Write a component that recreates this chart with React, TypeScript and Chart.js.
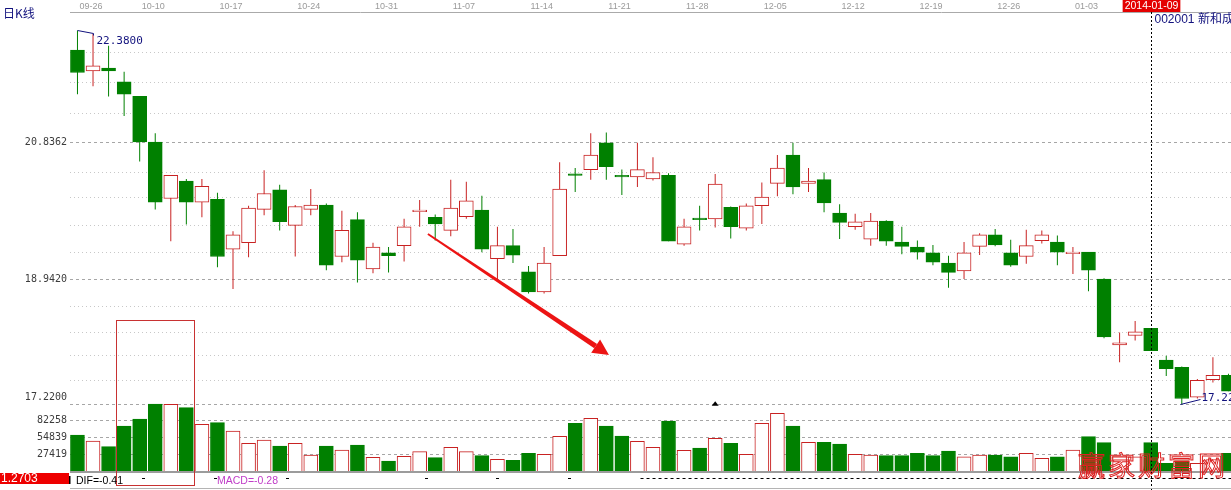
import { useEffect, useRef } from 'react';
import { Chart, registerables } from 'chart.js';

Chart.register(...registerables);

// ---------- data ----------
const opens = [
  22.11, 21.82, 21.86, 21.67, 21.47, 20.84, 20.06, 20.30, 20.01, 20.05,
  19.36, 19.45, 19.91, 20.18, 19.69, 19.91, 19.97, 19.26, 19.77, 19.09,
  19.31, 19.41, 19.88, 19.80, 19.62, 19.81, 19.90, 19.23, 19.41, 19.05,
  18.77, 19.27, 20.40, 20.46, 20.83, 20.38, 20.36, 20.33, 20.38, 19.43,
  19.79, 19.78, 19.94, 19.65, 19.96, 20.27, 20.66, 20.27, 20.32, 19.86,
  19.67, 19.50, 19.75, 19.46, 19.39, 19.31, 19.17, 19.06, 19.40, 19.56,
  19.31, 19.26, 19.48, 19.46, 19.30, 19.32, 18.95, 18.04, 18.17, 18.27,
  17.83, 17.73, 17.32, 17.56, 17.62,
];
const highs = [
  22.38, 22.33, 22.17, 21.81, 21.47, 20.96, 20.38, 20.33, 20.33, 20.14,
  19.61, 19.96, 20.45, 20.25, 19.97, 20.19, 19.99, 19.89, 19.87, 19.45,
  19.39, 19.78, 20.04, 19.84, 20.32, 20.29, 20.10, 19.67, 19.64, 19.13,
  19.39, 20.56, 20.48, 20.96, 20.97, 20.46, 20.83, 20.63, 20.41, 19.78,
  19.96, 20.40, 19.95, 19.99, 20.28, 20.66, 20.83, 20.48, 20.42, 19.98,
  19.85, 19.86, 19.76, 19.67, 19.48, 19.42, 19.27, 19.46, 19.58, 19.64,
  19.49, 19.63, 19.62, 19.55, 19.39, 19.32, 18.96, 18.21, 18.37, 18.27,
  17.89, 17.74, 17.57, 17.87, 17.64,
];
const lows = [
  21.50, 21.61, 21.47, 21.20, 20.57, 19.91, 19.47, 19.70, 19.80, 19.11,
  18.81, 19.25, 19.83, 19.62, 19.26, 19.83, 19.07, 19.18, 18.90, 19.03,
  19.04, 19.19, 19.67, 19.48, 19.54, 19.78, 19.32, 18.94, 19.17, 18.75,
  18.75, 19.27, 20.15, 20.32, 20.32, 20.11, 20.22, 20.31, 19.47, 19.41,
  19.62, 19.66, 19.51, 19.62, 19.71, 20.09, 20.12, 20.15, 19.87, 19.50,
  19.63, 19.41, 19.41, 19.29, 19.22, 19.14, 18.83, 18.95, 19.28, 19.40,
  19.12, 19.16, 19.44, 19.14, 19.02, 18.78, 18.13, 17.80, 18.10, 17.96,
  17.61, 17.22, 17.30, 17.52, 17.40,
];
const closes = [
  21.80, 21.89, 21.82, 21.50, 20.84, 20.01, 20.38, 20.01, 20.23, 19.26,
  19.56, 19.93, 20.13, 19.74, 19.95, 19.97, 19.14, 19.62, 19.21, 19.39,
  19.27, 19.67, 19.90, 19.71, 19.93, 20.03, 19.36, 19.41, 19.28, 18.77,
  19.17, 20.19, 20.38, 20.66, 20.50, 20.36, 20.46, 20.42, 19.47, 19.67,
  19.77, 20.26, 19.67, 19.96, 20.08, 20.48, 20.22, 20.30, 20.00, 19.73,
  19.74, 19.75, 19.47, 19.40, 19.32, 19.18, 19.04, 19.31, 19.56, 19.42,
  19.14, 19.41, 19.56, 19.32, 19.32, 19.07, 18.15, 18.07, 18.22, 17.96,
  17.71, 17.30, 17.55, 17.62, 17.40,
];
const volumes = [
  59300, 49700, 40600, 73800, 85000, 109000, 108500, 103100, 76500, 79100,
  65700, 46000, 51300, 41700, 46000, 27300, 41700, 35300, 43300, 23500,
  17600, 25000, 32600, 23000, 39600, 32600, 26200, 20300, 18700, 29900,
  28300, 57200, 78000, 86100, 73800, 57700, 49200, 39600, 81800, 34800,
  38500, 54000, 46000, 28300, 78000, 94100, 73800, 47600, 47600, 44900,
  28300, 27300, 26200, 26200, 29900, 26200, 33700, 24500, 27300, 27300,
  24500, 29900, 22000, 24500, 35300, 56600, 47000, 26000, 24500, 47000,
  14000, 18000, 14000, 20000, 30000,
];

const dateTickIndex = [0, 4, 9, 14, 19, 24, 29, 34, 39, 44, 49, 54, 59, 64];
const dateTickLabels = ['09-26', '10-10', '10-17', '10-24', '10-31', '11-07', '11-14', '11-21', '11-28', '12-05', '12-12', '12-19', '12-26', '01-03'];
const priceTicks = [20.8362, 18.942, 17.22];
const priceDotLevels = [22.087, 21.673, 21.236, 20.43, 20.088, 19.688, 19.326, 18.577, 18.222, 17.9, 17.555];
const volumeTicks = [27419, 54839, 82258];

const cursorIndex = 69;
const cursorDate = '2014-01-09';
const stockTitle = '002001 新和成';
const periodTitle = '日K线';
const difText = 'DIF=-0.41';
const macdText = 'MACD=-0.28';
const leftBadge = '1.2703';
const watermark = '赢家财富网';

// annotation anchors in data space [index, price]
const arrowStart = [22.53, 19.57];
const arrowEnd = [34.17, 17.9];
const boxRange = [2.5, 7.5];
const boxTopPrice = 18.384;
const macdTinyIdx = [4.2, 8.85, 13.5, 22.4, 27, 31.6];
const macdLineFrom = 36.2;
const markerIdx = 41;

// scale ranges
const PRICE_MIN = 16.2855;
const PRICE_MAX = 22.6347;
const VOL_MAX = 737600;
const X_MIN = -0.48;
const X_MAX = 74.163;

const UP = '#c82222';
const DOWN = '#008000';
const NAVY = '#12127e';

const idx = opens.map((_, i) => i);
const isUp = (i: number) => closes[i] >= opens[i];
const lineColor = (i: number) => (isUp(i) ? UP : DOWN);
const fillColor = (i: number) => (isUp(i) ? '#ffffff' : DOWN);

const overlay = {
  id: 'overlay',
  beforeDatasetsDraw(chart: any) {
    const { ctx, chartArea: a, scales } = chart;
    const ys = scales.y;
    ctx.save();
    ctx.strokeStyle = '#c8c8c8';
    ctx.lineWidth = 1;
    ctx.setLineDash([1, 3]);
    for (const v of priceDotLevels) {
      const py = Math.round(ys.getPixelForValue(v)) + 0.5;
      ctx.beginPath();
      ctx.moveTo(a.left, py);
      ctx.lineTo(a.right, py);
      ctx.stroke();
    }
    ctx.restore();
  },
  afterDraw(chart: any) {
    const { ctx, chartArea: a, scales } = chart;
    const xs = scales.x;
    const ys = scales.y;
    const yv = scales.yv;
    ctx.save();

    // volume baseline
    ctx.fillStyle = '#9c9c9c';
    ctx.fillRect(a.left, a.bottom - 1, a.right - a.left, 2);

    // axis labels
    ctx.fillStyle = '#3c3c3c';
    ctx.font = '10px "DejaVu Sans Mono"';
    ctx.textAlign = 'right';
    ctx.textBaseline = 'middle';
    priceTicks.forEach((v, i) => {
      let py = ys.getPixelForValue(v);
      if (i === priceTicks.length - 1) py -= 7;
      ctx.fillText(v.toFixed(4), a.left - 3, py);
    });
    volumeTicks.forEach((v) => {
      ctx.fillText(String(v), a.left - 3, yv.getPixelForValue(v));
    });

    // period title
    ctx.fillStyle = NAVY;
    ctx.textAlign = 'left';
    ctx.font = '12px "Noto Sans CJK SC"';
    ctx.fillText(periodTitle, 3, 13);

    // high marker
    const hi = Math.max(...highs);
    const hiIdx = highs.indexOf(hi);
    const hx = Math.round(xs.getPixelForValue(hiIdx)) + 0.5;
    const hy = Math.round(ys.getPixelForValue(hi)) + 0.5;
    ctx.strokeStyle = NAVY;
    ctx.lineWidth = 1;
    ctx.beginPath();
    ctx.moveTo(hx, hy);
    ctx.lineTo(hx + 16, hy + 3);
    ctx.lineTo(hx + 16, hy + 5);
    ctx.stroke();
    ctx.font = '11px "DejaVu Sans Mono"';
    ctx.fillText(hi.toFixed(4), hx + 19, hy + 11);

    // low marker
    const lo = Math.min(...lows);
    const loIdx = lows.indexOf(lo);
    const lx = Math.round(xs.getPixelForValue(loIdx)) + 0.5;
    const ly = Math.round(ys.getPixelForValue(lo)) + 0.5;
    ctx.beginPath();
    ctx.moveTo(lx - 2, ly);
    ctx.lineTo(lx + 18, ly - 5);
    ctx.stroke();
    ctx.fillText(lo.toFixed(4), lx + 19, ly - 6);

    // arrow annotation
    const p0x = xs.getPixelForValue(arrowStart[0]);
    const p0y = ys.getPixelForValue(arrowStart[1]);
    const p1x = xs.getPixelForValue(arrowEnd[0]);
    const p1y = ys.getPixelForValue(arrowEnd[1]);
    const dx = p1x - p0x;
    const dy = p1y - p0y;
    const len = Math.hypot(dx, dy);
    const ux = dx / len;
    const uy = dy / len;
    const nx = -uy;
    const ny = ux;
    const headLen = 16;
    const headHalf = 8;
    const bx = p1x - ux * headLen;
    const by = p1y - uy * headLen;
    ctx.fillStyle = '#ec1414';
    ctx.beginPath();
    ctx.moveTo(p0x + nx * 0.9, p0y + ny * 0.9);
    ctx.lineTo(bx + nx * 2.6, by + ny * 2.6);
    ctx.lineTo(bx - nx * 2.6, by - ny * 2.6);
    ctx.lineTo(p0x - nx * 0.9, p0y - ny * 0.9);
    ctx.closePath();
    ctx.fill();
    ctx.beginPath();
    ctx.moveTo(p1x, p1y);
    ctx.lineTo(bx + nx * headHalf, by + ny * headHalf);
    ctx.lineTo(bx - nx * headHalf, by - ny * headHalf);
    ctx.closePath();
    ctx.fill();

    // rectangle annotation
    const rx0 = Math.round(xs.getPixelForValue(boxRange[0])) + 0.5;
    const rx1 = Math.round(xs.getPixelForValue(boxRange[1])) + 0.5;
    const ry0 = Math.round(ys.getPixelForValue(boxTopPrice)) + 0.5;
    const ry1 = a.bottom + 13.5;
    ctx.strokeStyle = '#c83232';
    ctx.strokeRect(rx0, ry0, rx1 - rx0, ry1 - ry0);

    // small triangle marker
    const tx = xs.getPixelForValue(markerIdx);
    const ty = ys.getPixelForValue(priceTicks[2]);
    ctx.fillStyle = '#000';
    ctx.beginPath();
    ctx.moveTo(tx, ty - 3);
    ctx.lineTo(tx + 3.5, ty + 1.5);
    ctx.lineTo(tx - 3.5, ty + 1.5);
    ctx.closePath();
    ctx.fill();

    // cursor line
    const cx = Math.round(xs.getPixelForValue(cursorIndex)) + 0.5;
    ctx.strokeStyle = '#000';
    ctx.setLineDash([2, 2]);
    ctx.beginPath();
    ctx.moveTo(cx, a.top);
    ctx.lineTo(cx, 490);
    ctx.stroke();

    // MACD zero-ish dashes
    ctx.setLineDash([3, 3]);
    ctx.beginPath();
    ctx.moveTo(xs.getPixelForValue(macdLineFrom), a.bottom + 6.5);
    ctx.lineTo(a.right, a.bottom + 6.5);
    ctx.stroke();
    ctx.setLineDash([]);
    ctx.fillStyle = '#000';
    macdTinyIdx.forEach((v) => {
      const px = Math.round(xs.getPixelForValue(v));
      ctx.fillRect(px - 1, a.bottom + 6, 3, 1);
    });

    // bottom gray line
    ctx.fillStyle = '#b4b4b4';
    ctx.fillRect(a.left, 488, a.right - a.left, 1);

    // cursor date badge
    ctx.font = '10.5px "Liberation Sans"';
    const dw = ctx.measureText(cursorDate).width + 4;
    ctx.fillStyle = '#e40000';
    ctx.fillRect(cx - dw / 2, 0, dw, 12);
    ctx.fillStyle = '#fff';
    ctx.textAlign = 'center';
    ctx.fillText(cursorDate, cx, 6.5);

    // stock title
    ctx.fillStyle = NAVY;
    ctx.textAlign = 'left';
    ctx.font = '12px "Liberation Sans", "Noto Sans CJK SC"';
    ctx.fillText(stockTitle, cx + 3, 20);

    // bottom-left badge and indicator texts
    ctx.fillStyle = '#ee0000';
    ctx.fillRect(0, 473, 69, 11);
    ctx.fillStyle = '#fff';
    ctx.font = '12px "Liberation Sans"';
    ctx.fillText(leftBadge, 1, 479);
    ctx.fillStyle = '#000';
    ctx.fillRect(69, 476, 1.5, 8);
    ctx.font = '10.5px "Liberation Sans"';
    ctx.fillText(difText, 76, 481.5);
    ctx.fillStyle = '#c03cc8';
    ctx.fillText(macdText, 217, 481.5);

    // watermark
    ctx.strokeStyle = '#dd2020';
    ctx.lineWidth = 1;
    ctx.font = '27px "Noto Sans CJK SC"';
    ctx.textBaseline = 'middle';
    Array.from(watermark).forEach((ch, i) => {
      ctx.strokeText(ch, 1078 + i * 30, 466);
    });

    ctx.restore();
  },
};

export default function App() {
  const ref = useRef<HTMLCanvasElement>(null);

  useEffect(() => {
    const canvas = ref.current;
    if (!canvas) return;
    const labelMap = new Map<number, string>();
    dateTickIndex.forEach((v, i) => labelMap.set(v, dateTickLabels[i]));

    const chart = new Chart(canvas, {
      type: 'bar',
      data: {
        datasets: [
          {
            type: 'bar',
            data: idx.map((i) => ({ x: i, y: [lows[i], highs[i]] })) as any,
            yAxisID: 'y',
            backgroundColor: idx.map(lineColor),
            borderWidth: 0,
            barThickness: 1,
            inflateAmount: 0,
            grouped: false,
            order: 3,
          } as any,
          {
            type: 'bar',
            data: idx.map((i) => ({ x: i, y: [Math.min(opens[i], closes[i]), Math.max(opens[i], closes[i])] })) as any,
            yAxisID: 'y',
            backgroundColor: idx.map(fillColor),
            borderColor: idx.map(lineColor),
            borderWidth: 1,
            borderSkipped: false,
            barThickness: 14,
            grouped: false,
            order: 2,
          } as any,
          {
            type: 'bar',
            data: idx.map((i) => ({ x: i, y: volumes[i] })) as any,
            yAxisID: 'yv',
            backgroundColor: idx.map(fillColor),
            borderColor: idx.map(lineColor),
            borderWidth: 1,
            borderSkipped: false,
            barThickness: 14,
            grouped: false,
            order: 1,
          } as any,
        ],
      },
      options: {
        responsive: false,
        maintainAspectRatio: false,
        animation: false,
        devicePixelRatio: 1,
        events: [],
        layout: { padding: { top: 0, left: 0, right: 0, bottom: 18 } },
        plugins: { legend: { display: false }, tooltip: { enabled: false } },
        scales: {
          x: {
            type: 'linear',
            position: 'top',
            min: X_MIN,
            max: X_MAX,
            offset: false,
            grid: { display: false },
            border: { display: true, color: '#aaaaaa', width: 1 },
            ticks: {
              autoSkip: false,
              maxRotation: 0,
              minRotation: 0,
              align: 'start',
              padding: -8,
              labelOffset: 2,
              color: '#9a9a9a',
              font: { size: 9, family: '"Liberation Sans", Arial' },
              callback: (v: any) => labelMap.get(Number(v)) ?? '',
            },
            afterBuildTicks: (s: any) => {
              s.ticks = dateTickIndex.map((v) => ({ value: v }));
            },
            afterFit: (s: any) => {
              s.height = 12;
            },
          } as any,
          y: {
            type: 'linear',
            position: 'left',
            weight: 1,
            min: PRICE_MIN,
            max: PRICE_MAX,
            grid: { color: '#a6a6a6', drawTicks: false, lineWidth: 1 },
            border: { display: false, dash: [3, 3] },
            ticks: { display: false },
            afterBuildTicks: (s: any) => {
              s.ticks = priceTicks.map((v) => ({ value: v }));
            },
            afterFit: (s: any) => {
              s.width = 70;
            },
          } as any,
          yv: {
            type: 'linear',
            position: 'left',
            weight: 0,
            min: 0,
            max: VOL_MAX,
            grid: { color: '#a6a6a6', drawTicks: false, lineWidth: 1 },
            border: { display: false, dash: [3, 3] },
            ticks: { display: false },
            afterBuildTicks: (s: any) => {
              s.ticks = volumeTicks.map((v) => ({ value: v }));
            },
            afterFit: (s: any) => {
              s.width = 0;
            },
          } as any,
        },
      },
      plugins: [overlay],
    } as any);

    return () => chart.destroy();
  }, []);

  return (
    <div style={{ position: 'fixed', left: 0, top: 0, width: 1231, height: 490, background: '#ffffff' }}>
      <canvas ref={ref} width={1231} height={490} style={{ display: 'block', width: 1231, height: 490 }} />
    </div>
  );
}
